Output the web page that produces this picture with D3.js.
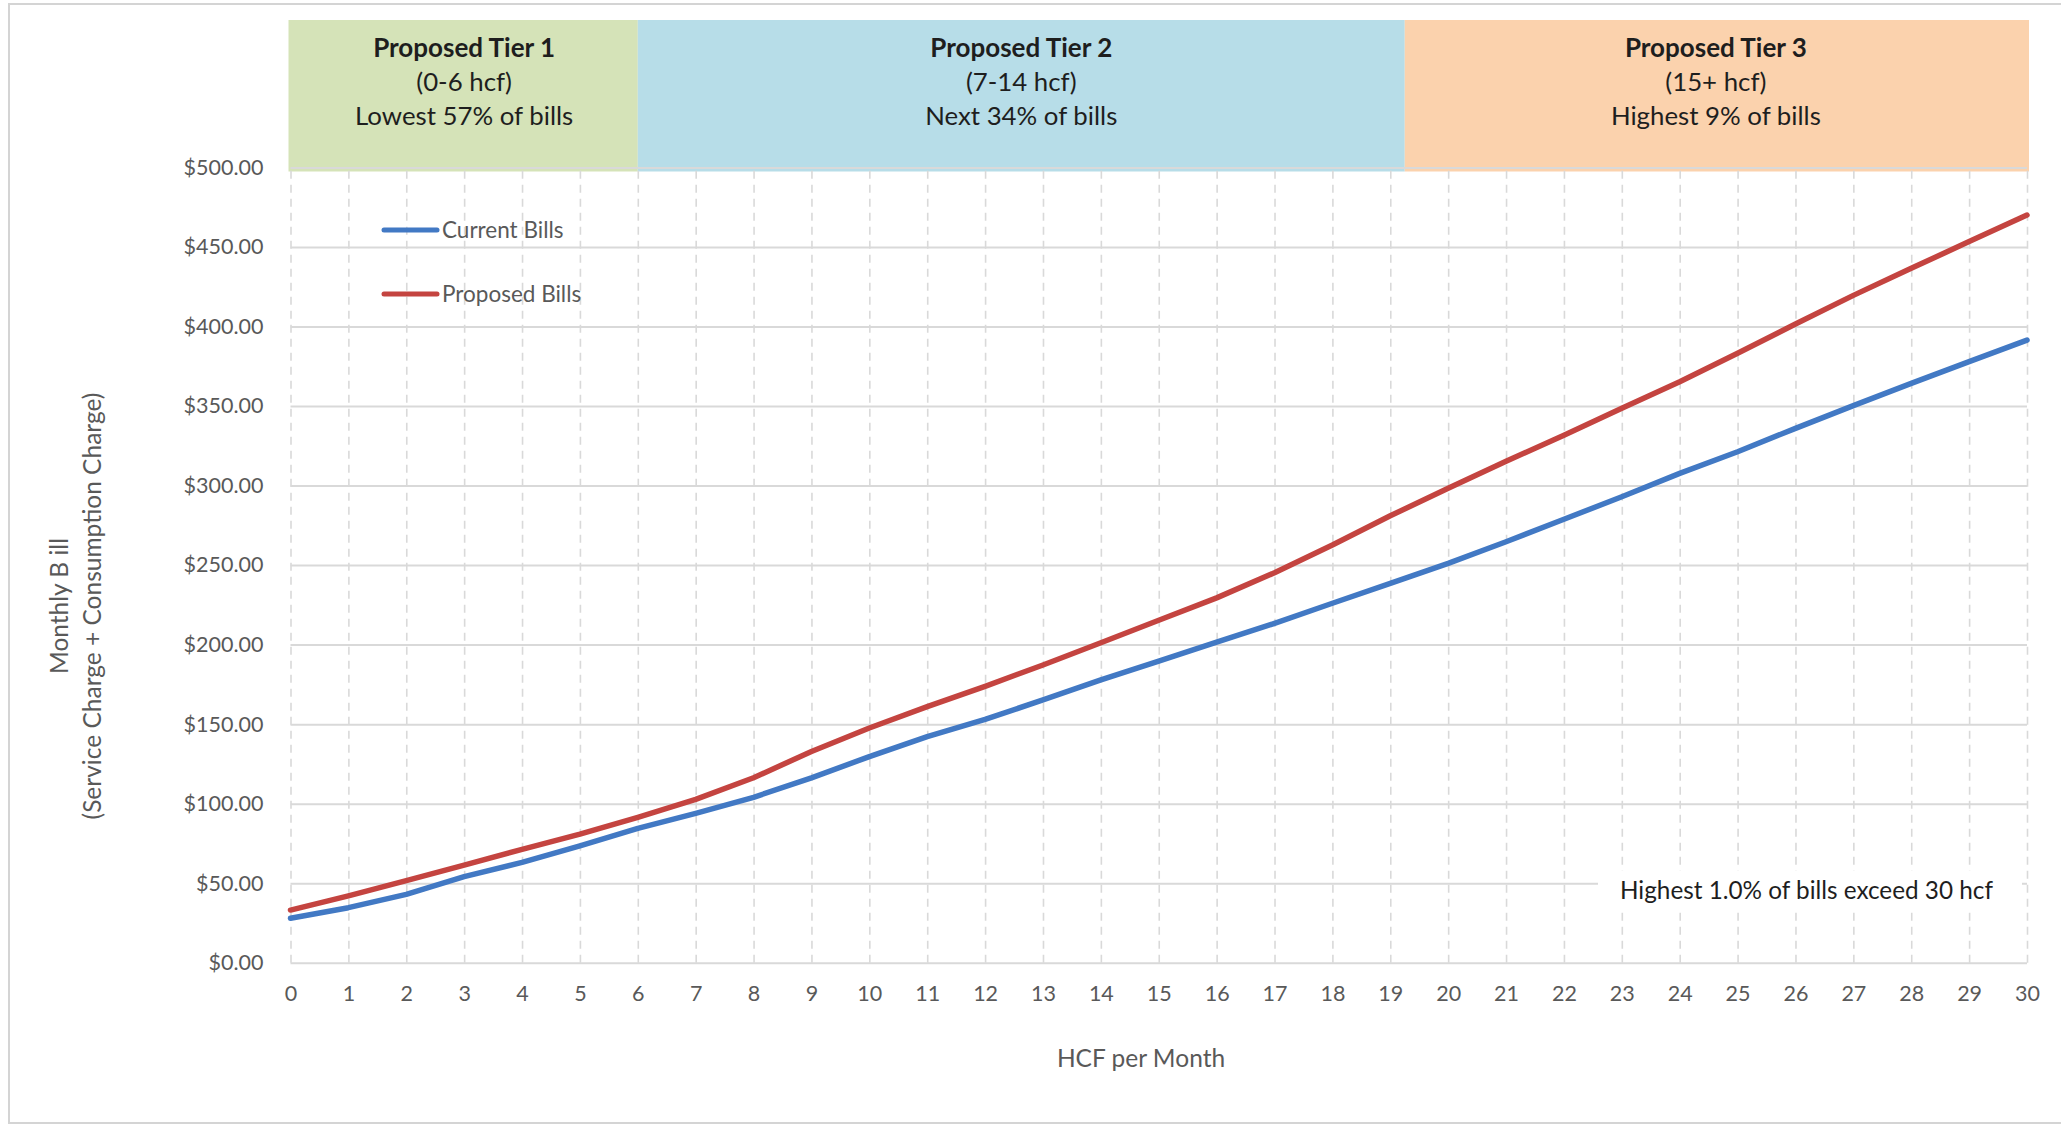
<!DOCTYPE html>
<html>
<head>
<meta charset="utf-8">
<script src="https://cdn.jsdelivr.net/npm/d3@7"></script>
<style>
  html, body { margin: 0; padding: 0; background: #ffffff; }
  svg { display: block; font-family: Lato, "Open Sans", sans-serif; }
</style>
</head>
<body>
<svg id="chart" width="2061" height="1125"></svg>
<script>
// Usage (hundred cubic feet per month) on the x axis
const hcf = d3.range(0, 31);

// Monthly bill under the current rates
const currentBills = [27.9, 34.6, 43.0, 54.1, 63.1, 73.4, 84.5, 93.9, 104.0, 116.2,
  129.6, 142.1, 153.0, 165.2, 177.8, 189.6, 201.5, 213.4, 226.0, 238.5,
  251.1, 264.7, 278.8, 293.0, 307.7, 321.3, 336.0, 350.3, 364.3, 377.9, 391.5];

// Monthly bill under the proposed rates
const proposedBills = [33.1, 42.0, 51.6, 61.4, 71.3, 80.9, 91.4, 102.7, 116.3, 132.8,
  147.6, 161.0, 173.8, 187.2, 201.2, 215.3, 229.4, 245.2, 262.6, 281.0,
  298.3, 315.3, 331.6, 348.6, 365.3, 383.2, 401.6, 419.6, 436.6, 453.4, 470.1];

// Tier bands across the top of the plot
const tierTitles = ["Proposed Tier 1", "Proposed Tier 2", "Proposed Tier 3"];
const tierRanges = ["(0-6 hcf)", "(7-14 hcf)", "(15+ hcf)"];
const tierShares = ["Lowest 57% of bills", "Next 34% of bills", "Highest 9% of bills"];
const tierStart = [0, 6, 19.25];
const tierEnd = [6, 19.25, 30];

// Axis ticks
const yTicks = [0, 50, 100, 150, 200, 250, 300, 350, 400, 450, 500];
const xTicks = d3.range(0, 31);

const seriesNames = ["Current Bills", "Proposed Bills"];
const yTitleLines = ["Monthly B ill", "(Service Charge + Consumption Charge)"];
const xTitle = "HCF per Month";
const note = "Highest 1.0% of bills exceed 30 hcf";

// ---- styling ----
const tierFill = ["#d5e3b8", "#b7dde8", "#fbd2ad"];
const lineColor = ["#4279c4", "#c44440"];
const gridColor = "#d9d9d9";
const labelColor = "#595959";
const darkText = "#1e1e1e";

const svg = d3.select("#chart");

// outer frame
svg.append("rect")
  .attr("x", 9).attr("y", 4).attr("width", 2062).attr("height", 1119)
  .attr("fill", "#ffffff").attr("stroke", "#d4d4d4").attr("stroke-width", 2);

const x = d3.scaleLinear().domain([0, 30]).range([290.5, 2027]);
const y = d3.scaleLinear().domain([0, 500]).range([962.7, 167.5]);

// tier bands
const bands = svg.append("g");
tierTitles.forEach((t, i) => {
  const x0 = x(tierStart[i]) - (i === 0 ? 2 : 0);
  const x1 = x(tierEnd[i]) + (i === 2 ? 2 : 0);
  bands.append("rect")
    .attr("x", x0).attr("y", 20)
    .attr("width", x1 - x0).attr("height", y(500) + 4 - 20)
    .attr("fill", tierFill[i]);
  const cx = (x(tierStart[i]) + x(tierEnd[i])) / 2;
  const lines = [tierTitles[i], tierRanges[i], tierShares[i]];
  lines.forEach((s, k) => {
    bands.append("text")
      .attr("x", cx).attr("y", 56.5 + k * 34)
      .attr("text-anchor", "middle")
      .attr("font-size", k === 0 ? 26 : 25.8)
      .attr("font-weight", k === 0 ? 700 : 400)
      .attr("fill", darkText)
      .text(s);
  });
});

// vertical dashed gridlines + x tick labels
const xAxis = d3.axisBottom(x)
  .tickValues(xTicks)
  .tickSize(-(y(0) - y(500)))
  .tickPadding(23)
  .tickFormat(d3.format("d"));
const gx = svg.append("g").attr("transform", `translate(0,${y(0)})`).call(xAxis);
gx.attr("font-family", null).attr("font-size", null);
gx.select(".domain").remove();
gx.selectAll(".tick line")
  .attr("stroke", gridColor).attr("stroke-width", 1.6)
  .attr("stroke-dasharray", "8,6");
gx.selectAll(".tick text")
  .attr("font-size", 21.5).attr("fill", labelColor);

// horizontal gridlines + y tick labels
const yAxis = d3.axisLeft(y)
  .tickValues(yTicks)
  .tickSize(-(x(30) - x(0)))
  .tickPadding(27)
  .tickFormat(d => "$" + d3.format(".2f")(d));
const gy = svg.append("g").attr("transform", `translate(${x(0)},0)`).call(yAxis);
gy.attr("font-family", null).attr("font-size", null);
gy.select(".domain").remove();
gy.selectAll(".tick line").attr("stroke", gridColor).attr("stroke-width", 2);
gy.selectAll(".tick text")
  .attr("font-size", 21.5).attr("fill", labelColor);

// note box over the lower gridline
const noteG = svg.append("g");
noteG.append("rect")
  .attr("x", 1598).attr("y", 871).attr("width", 424).attr("height", 38)
  .attr("fill", "#ffffff");
noteG.append("text")
  .attr("x", 1620).attr("y", 890).attr("dy", "0.35em")
  .attr("font-size", 24.3).attr("fill", darkText)
  .text(note);

// bill lines
const line = d3.line().x((d, i) => x(hcf[i])).y(d => y(d));
[currentBills, proposedBills].forEach((vals, i) => {
  svg.append("path")
    .datum(vals)
    .attr("d", line)
    .attr("fill", "none")
    .attr("stroke", lineColor[i])
    .attr("stroke-width", 5.5)
    .attr("stroke-linejoin", "round")
    .attr("stroke-linecap", "round");
});

// legend
const legend = svg.append("g");
seriesNames.forEach((name, i) => {
  const ly = 230 + i * 64;
  legend.append("line")
    .attr("x1", 384).attr("x2", 437).attr("y1", ly).attr("y2", ly)
    .attr("stroke", lineColor[i]).attr("stroke-width", 5)
    .attr("stroke-linecap", "round");
  legend.append("text")
    .attr("x", 442).attr("y", ly).attr("dy", "0.35em")
    .attr("font-size", 22.5).attr("fill", labelColor)
    .text(name);
});

// axis titles
const yTitle = svg.append("text")
  .attr("transform", "translate(0,606) rotate(-90)")
  .attr("text-anchor", "middle")
  .attr("font-size", 24.5).attr("fill", labelColor);
yTitleLines.forEach((s, k) => {
  yTitle.append("tspan")
    .attr("x", 0).attr("y", 59 + k * 33).attr("dy", "0.35em")
    .text(s);
});

svg.append("text")
  .attr("x", 1141).attr("y", 1058).attr("dy", "0.35em")
  .attr("text-anchor", "middle")
  .attr("font-size", 24.5).attr("fill", labelColor)
  .text(xTitle);
</script>
</body>
</html>
